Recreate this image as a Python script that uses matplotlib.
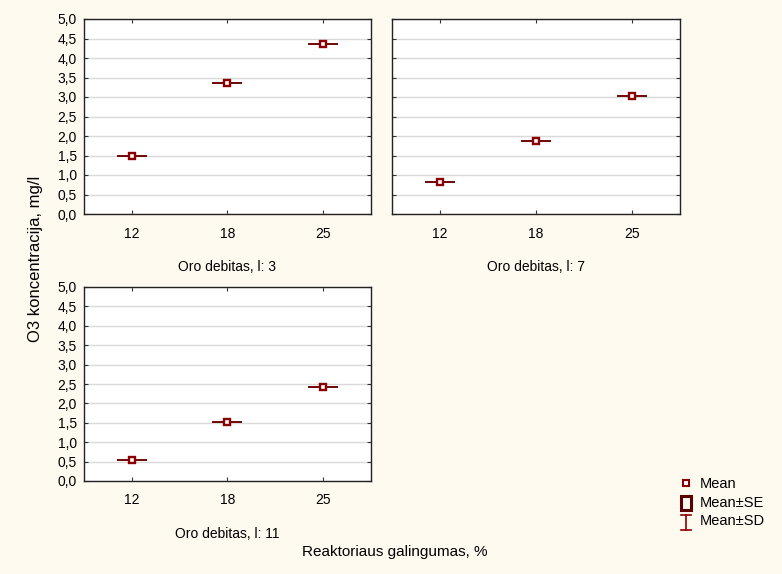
import numpy as np
import matplotlib
matplotlib.use("Agg")
import matplotlib.pyplot as plt
from matplotlib.lines import Line2D
from matplotlib.patches import Rectangle

plt.rcParams['font.family'] = ['Liberation Sans', 'DejaVu Sans']

# data
power = ["12", "18", "25"]
flow_labels = ["Oro debitas, l: 3", "Oro debitas, l: 7", "Oro debitas, l: 11"]
mean_l3 = [1.49, 3.37, 4.36]
mean_l7 = [0.83, 1.87, 3.03]
mean_l11 = [0.53, 1.52, 2.41]
yticks = [0.0, 0.5, 1.0, 1.5, 2.0, 2.5, 3.0, 3.5, 4.0, 4.5, 5.0]

bg = "#fffaf0"
red = "#8b0000"
fig = plt.figure(figsize=(7.82, 5.74), dpi=100, facecolor=bg)
W, H = 782, 574

def px(l, t, r, b):
    return [l / W, 1 - b / H, (r - l) / W, (b - t) / H]

boxes = [px(84, 19, 371, 214), px(392, 19, 680, 214), px(84, 287, 371, 481)]
means = [mean_l3, mean_l7, mean_l11]

for i, (box, m, lab) in enumerate(zip(boxes, means, flow_labels)):
    ax = fig.add_axes(box)
    ax.set_facecolor("white")
    x = np.arange(len(power))
    # SD whiskers are too small to see: only the caps show as one line
    ax.errorbar(x, m, yerr=0, fmt="none", ecolor="#6b0000", elinewidth=1.0,
                capsize=10.5, capthick=1.1, zorder=3)
    ax.plot(x, m, "s", ms=5, mfc="white", mec=red, mew=1.7, zorder=4)
    ax.set_xlim(-0.5, 2.5)
    ax.set_ylim(0, 5)
    ax.set_xticks(x)
    ax.set_xticklabels(power, fontsize=10)
    ax.set_yticks(yticks)
    if i == 1:
        ax.set_yticklabels([])
    else:
        ax.set_yticklabels([f"{v:.1f}".replace(".", ",") for v in yticks], fontsize=10)
    ax.yaxis.grid(True, color="#d9d9d9", lw=1.0)
    ax.set_axisbelow(True)
    ax.tick_params(direction="in", top=True, right=True, length=3, width=0.8,
                   color="#333333", pad=5)
    ax.tick_params(axis="x", pad=9)
    for sp in ax.spines.values():
        sp.set_color("#222222")
        sp.set_linewidth(1.0)
    ax.set_xlabel(lab, fontsize=10, labelpad=14)

fig.text(36 / W, 1 - 259 / H, "O3 koncentracija, mg/l", rotation=90,
         ha="center", va="center", fontsize=12)
fig.text(395 / W, 1 - 552 / H, "Reaktoriaus galingumas, %",
         ha="center", va="center", fontsize=11)

# legend
fig.add_artist(Line2D([686 / W], [1 - 483 / H], marker="s", ms=4.5, mfc="white",
                      mec=red, mew=1.5, ls="none"))
fig.add_artist(Rectangle((681 / W, 1 - 510 / H), 10 / W, 14 / H, fill=False,
                         ec="#5a0000", lw=2.2, transform=fig.transFigure))
fig.add_artist(Line2D([686 / W, 686 / W], [1 - 515 / H, 1 - 530 / H], color=red, lw=1.2))
fig.add_artist(Line2D([681 / W, 691 / W], [1 - 515 / H, 1 - 515 / H], color=red, lw=1.2))
fig.add_artist(Line2D([681 / W, 691 / W], [1 - 530 / H, 1 - 530 / H], color=red, lw=1.2))
for y, t in [(484, "Mean"), (503, "Mean±SE"), (521, "Mean±SD")]:
    fig.text(700 / W, 1 - y / H, t, ha="left", va="center", fontsize=10.5)

fig.savefig("out.png", dpi=100, facecolor=bg)
